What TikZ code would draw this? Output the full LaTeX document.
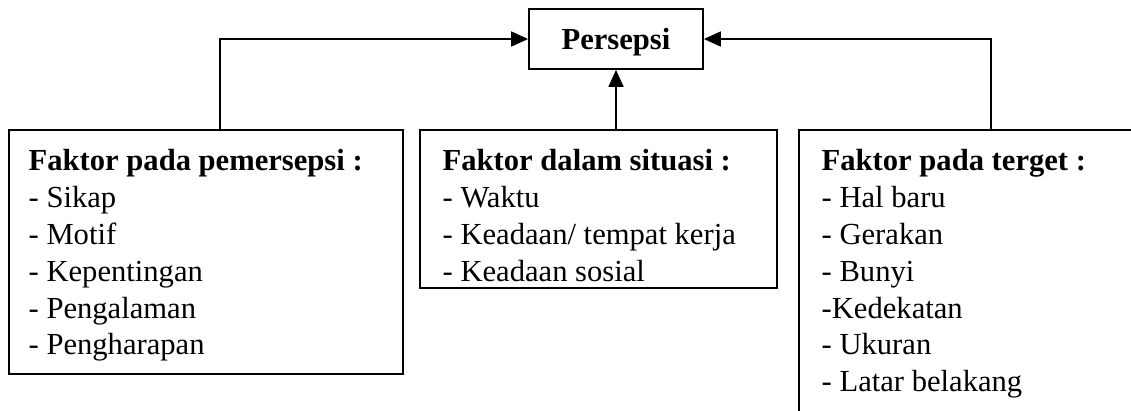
\documentclass[tikz,border=0pt]{standalone}
\usepackage{fontspec}
\setmainfont{Liberation Serif}
\usetikzlibrary{arrows.meta}
\begin{document}
\begin{tikzpicture}[x=1pt,y=-1pt,
  box/.style={draw, line width=1.8pt, inner sep=0pt, rectangle},
  txt/.style={anchor=north west, inner sep=0pt, align=left,
    font=\fontsize{30.6}{36.8}\selectfont},
  arr/.style={line width=1.8pt, -{Triangle[length=17pt,width=15pt]}}]
\useasboundingbox (0,0) rectangle (1131,410);
\clip (0,0) rectangle (1131,410);
\node[box, minimum width=174pt, minimum height=60pt, text height=20pt, text depth=0pt,
  font=\fontsize{30.6}{36}\selectfont\bfseries] (p) at (616,39) {Persepsi};
\node[box, minimum width=394pt, minimum height=244pt] (lb) at (206,252) {};
\node[box, minimum width=357pt, minimum height=158pt] (mb) at (598.5,209) {};
\node[box, minimum width=400pt, minimum height=320pt] (rb) at (999,290) {};
\node[txt] (lt) at (28.5,149.5) {\textbf{Faktor pada pemersepsi :}\\- Sikap\\- Motif\\- Kepentingan\\- Pengalaman\\- Pengharapan};
\node[txt] (mt) at (442.5,149.5) {\textbf{Faktor dalam situasi :}\\- Waktu\\- Keadaan/ tempat kerja\\- Keadaan sosial};
\node[txt] (rt) at (821.5,149.5) {\textbf{Faktor pada terget :}\\- Hal baru\\- Gerakan\\- Bunyi\\-Kedekatan\\- Ukuran\\- Latar belakang};
\draw[arr] ([xshift=212pt]lb.north west) |- (p.west);
\draw[arr] ([xshift=193pt]rb.north west) |- (p.east);
\draw[arr] (p.south |- mb.north) -- (p.south);
\end{tikzpicture}
\end{document}
